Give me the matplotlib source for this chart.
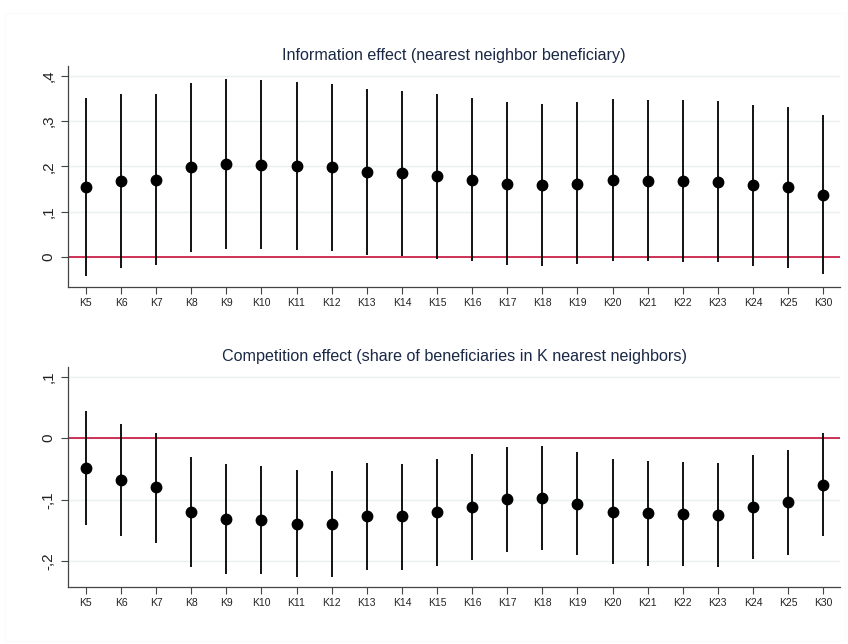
import matplotlib
matplotlib.use("Agg")
import matplotlib.pyplot as plt
import numpy as np

categories = ["K5", "K6", "K7", "K8", "K9", "K10", "K11", "K12", "K13", "K14", "K15",
              "K16", "K17", "K18", "K19", "K20", "K21", "K22", "K23", "K24", "K25", "K30"]

info_est = [0.154, 0.168, 0.171, 0.199, 0.205, 0.203, 0.202, 0.199, 0.188, 0.185, 0.179,
            0.170, 0.162, 0.159, 0.162, 0.170, 0.168, 0.167, 0.165, 0.158, 0.154, 0.137]
info_hi = [0.351, 0.360, 0.360, 0.385, 0.393, 0.390, 0.387, 0.383, 0.372, 0.367, 0.360,
           0.351, 0.342, 0.339, 0.342, 0.349, 0.347, 0.346, 0.344, 0.336, 0.331, 0.313]
info_lo = [-0.043, -0.025, -0.018, 0.011, 0.017, 0.017, 0.016, 0.013, 0.005, 0.001, -0.004,
           -0.010, -0.019, -0.021, -0.016, -0.009, -0.010, -0.011, -0.012, -0.020, -0.024, -0.039]

comp_est = [-0.049, -0.068, -0.080, -0.119, -0.131, -0.133, -0.139, -0.139, -0.127, -0.127, -0.120,
            -0.111, -0.099, -0.097, -0.106, -0.119, -0.122, -0.123, -0.125, -0.111, -0.104, -0.076]
comp_hi = [0.044, 0.023, 0.009, -0.030, -0.042, -0.045, -0.052, -0.053, -0.041, -0.042, -0.034,
           -0.026, -0.014, -0.013, -0.022, -0.034, -0.037, -0.038, -0.041, -0.027, -0.019, 0.008]
comp_lo = [-0.141, -0.159, -0.170, -0.209, -0.220, -0.221, -0.226, -0.226, -0.214, -0.214, -0.207,
           -0.197, -0.184, -0.182, -0.190, -0.204, -0.207, -0.208, -0.209, -0.196, -0.189, -0.159]

info_title = "Information effect (nearest neighbor beneficiary)"
comp_title = "Competition effect (share of beneficiaries in K nearest neighbors)"
info_yticks = [0, 0.1, 0.2, 0.3, 0.4]
info_yticklabels = ["0", ",1", ",2", ",3", ",4"]
comp_yticks = [-0.2, -0.1, 0, 0.1]
comp_yticklabels = ["-,2", "-,1", "0", ",1"]

plt.rcParams['font.family'] = ['Liberation Sans', 'DejaVu Sans']

fig = plt.figure(figsize=(8.48, 6.44), dpi=100)
fig.patch.set_facecolor("white")

# very faint outer frame as in the reference
fig.add_artist(plt.Rectangle((5 / 848, 0.005), 0.99, 0.975, transform=fig.transFigure,
                             fill=False, edgecolor="#fafbfb", lw=0.8))

ax1 = fig.add_axes([0.0802, 0.5548, 0.9104, 0.3427])
ax2 = fig.add_axes([0.0802, 0.0880, 0.9104, 0.3426])

def draw(ax, est, lo, hi, title, yt, ytl, ylim):
    x = np.arange(len(categories))
    ax.set_xlim(-0.51, len(categories) - 0.52)
    ax.set_ylim(*ylim)
    for t in yt:
        ax.axhline(t, color="#eaf0f2", lw=1.0, zorder=0)
    ax.axhline(0, color="#c8103a", lw=1.2, zorder=1)
    ax.vlines(x, lo, hi, color="black", lw=1.3, zorder=2)
    ax.plot(x, est, "o", color="black", ms=7.5, zorder=3)
    ax.set_xticks(x)
    ax.set_xticklabels(categories, fontsize=7.5, color="#222222")
    ax.set_yticks(yt)
    ax.set_yticklabels(ytl, fontsize=11, rotation=90, va="center", color="#222222")
    ax.tick_params(axis="both", direction="out", length=5, color="#444444", width=0.8)
    ax.tick_params(axis="x", pad=3)
    ax.tick_params(axis="y", pad=4)
    for s in ["top", "right"]:
        ax.spines[s].set_visible(False)
    for s in ["left", "bottom"]:
        ax.spines[s].set_color("#444444")
        ax.spines[s].set_linewidth(0.9)
    ax.set_title(title, fontsize=11.6, color="#1a2845", pad=4)

draw(ax1, info_est, info_lo, info_hi, info_title, info_yticks, info_yticklabels, (-0.066, 0.422))
draw(ax2, comp_est, comp_lo, comp_hi, comp_title, comp_yticks, comp_yticklabels, (-0.242, 0.116))

fig.savefig("out.png", dpi=100, facecolor="white")
